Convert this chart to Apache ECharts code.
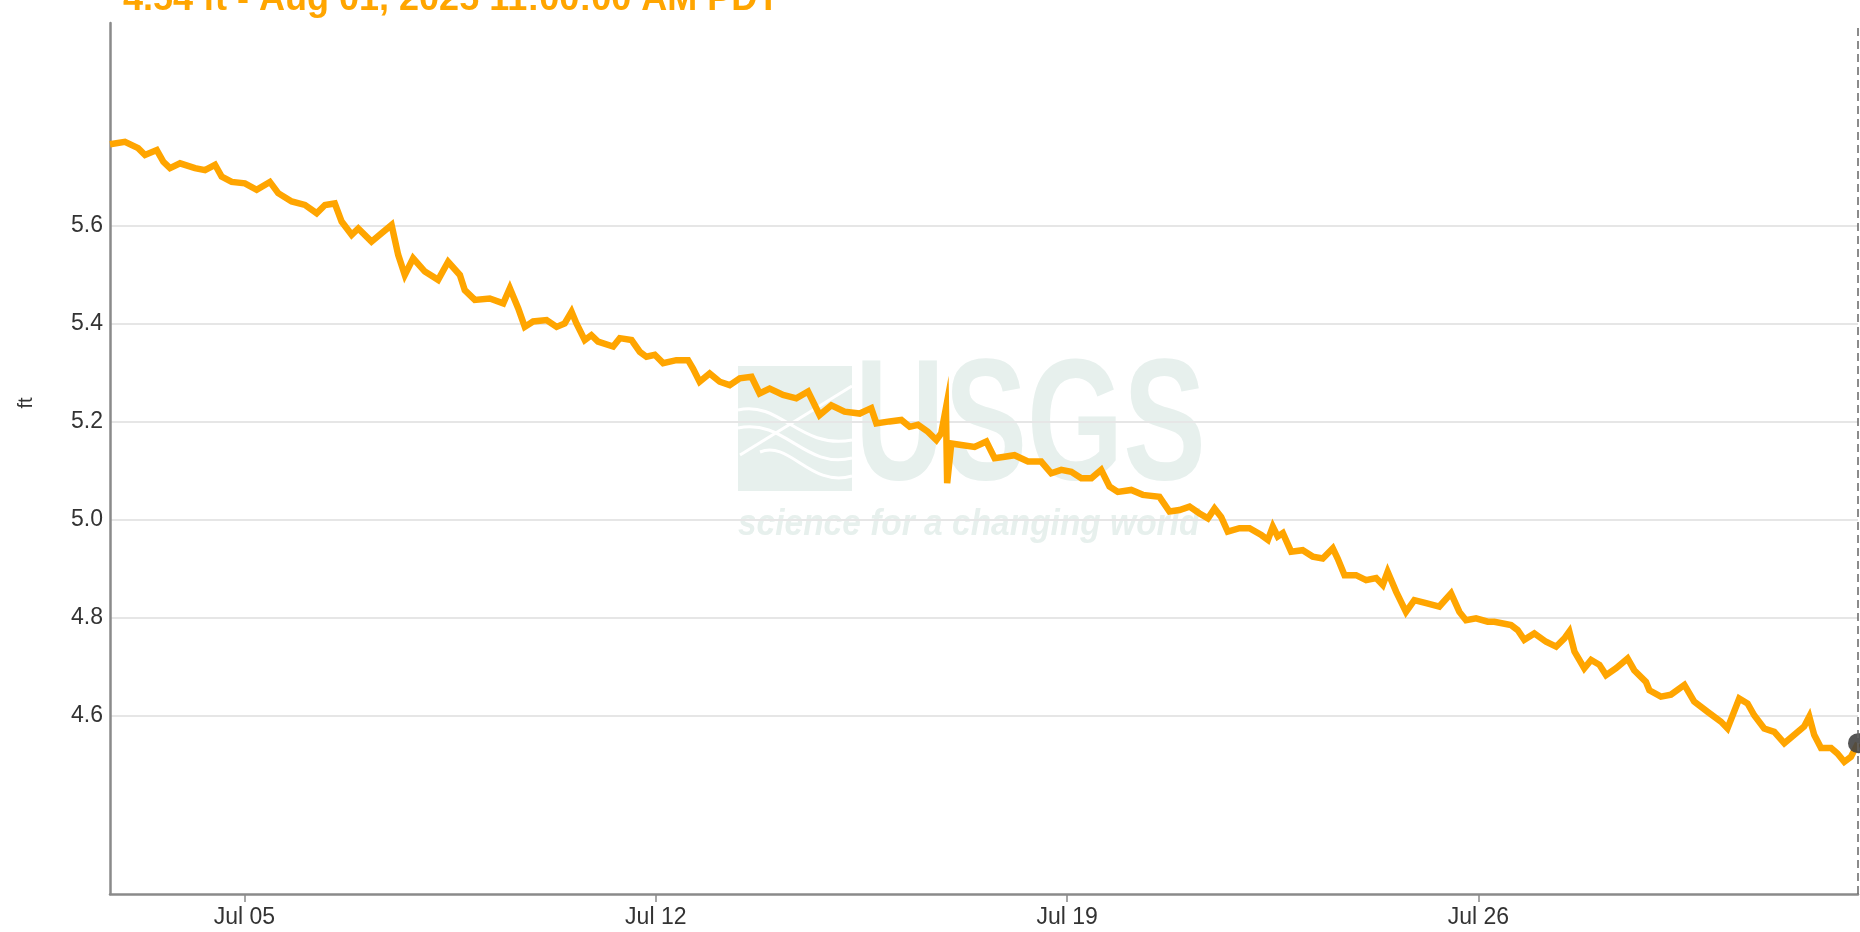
<!DOCTYPE html>
<html>
<head>
<meta charset="utf-8">
<title>Gage height</title>
<script src="https://cdn.jsdelivr.net/npm/echarts@6/dist/echarts.min.js"></script>
<style>
  html, body { margin: 0; padding: 0; background: #fff; }
  #chart { width: 1860px; height: 932px; }
</style>
</head>
<body>
<div id="chart"></div>
<script>
// hours since Jul 01 00:00 PDT
const hours = [
  41.1, 47.2, 52.6, 55.4, 60.2, 62.9, 65.6, 69.7, 75.8, 79.9, 84.0, 86.7, 90.8, 96.2, 101.0, 106.4, 109.8,
  115.3, 120.7, 125.5, 128.9, 132.9, 135.7, 139.8, 142.5, 147.9, 152.0, 156.1, 158.8, 161.5, 164.9, 169.7,
  175.1, 179.2, 184.0, 186.0, 190.1, 196.2, 201.7, 204.4, 207.8, 210.5, 213.9, 219.4, 223.5, 226.8, 229.6,
  231.6, 235.0, 237.7, 240.4, 246.6, 249.3, 254.1, 257.5, 260.2, 263.6, 267.0, 272.4, 277.2, 279.2, 281.9,
  286.0, 290.1, 294.2, 298.3, 303.1, 306.4, 310.5, 316.0, 321.4, 326.2, 330.9, 335.7, 341.1, 347.3, 352.0,
  354.1, 359.5, 364.3, 367.7, 371.1, 375.1, 378.6, 380.6, 382.5, 383.0, 384.7, 388.8, 394.2, 399.0, 402.4,
  406.5, 410.5, 416.0, 421.4, 425.5, 429.6, 433.7, 437.8, 441.9, 445.9, 449.3, 452.7, 458.2, 462.9, 469.7,
  473.8, 477.9, 482.0, 486.1, 489.5, 492.2, 494.9, 497.6, 502.4, 506.5, 511.3, 514.0, 516.0, 518.0, 520.1,
  523.5, 528.2, 532.3, 536.4, 540.5, 542.5, 545.3, 550.0, 554.1, 558.2, 560.9, 562.9, 566.4, 570.4, 573.8,
  578.6, 584.0, 588.8, 592.2, 594.9, 599.0, 603.8, 606.5, 613.3, 616.0, 618.7, 622.8, 627.6, 631.7, 635.1,
  637.1, 639.2, 643.2, 646.0, 649.4, 652.1, 656.2, 660.9, 663.6, 668.4, 669.8, 674.5, 678.6, 684.1, 688.1,
  693.6, 699.0, 701.7, 706.5, 709.9, 712.6, 716.7, 720.8, 724.9, 729.0, 733.0, 735.1, 737.1, 739.9, 744.0,
  746.6, 749.4, 752.1, 755.0
];
// gage height, ft
const stage = [
  5.767, 5.772, 5.759, 5.745, 5.755, 5.731, 5.718, 5.728, 5.718, 5.714, 5.725, 5.701, 5.690, 5.687, 5.674, 5.690, 5.667,
  5.650, 5.643, 5.626, 5.643, 5.646, 5.609, 5.582, 5.595, 5.568, 5.585, 5.602, 5.541, 5.500, 5.534, 5.507,
  5.490, 5.527, 5.500, 5.469, 5.449, 5.452, 5.442, 5.473, 5.432, 5.394, 5.405, 5.408, 5.394, 5.401, 5.425,
  5.401, 5.367, 5.377, 5.364, 5.354, 5.371, 5.367, 5.343, 5.333, 5.337, 5.320, 5.326, 5.326, 5.309, 5.282,
  5.299, 5.282, 5.275, 5.289, 5.292, 5.258, 5.268, 5.255, 5.248, 5.262, 5.214, 5.234, 5.221, 5.217, 5.228,
  5.197, 5.201, 5.204, 5.190, 5.194, 5.180, 5.163, 5.177, 5.228, 5.075, 5.156, 5.153, 5.149, 5.160, 5.126,
  5.129, 5.132, 5.119, 5.119, 5.095, 5.102, 5.098, 5.085, 5.085, 5.102, 5.068, 5.057, 5.061, 5.051, 5.047,
  5.017, 5.020, 5.027, 5.013, 5.003, 5.023, 5.006, 4.976, 4.983, 4.983, 4.969, 4.959, 4.986, 4.966, 4.973,
  4.935, 4.938, 4.925, 4.921, 4.942, 4.921, 4.887, 4.887, 4.877, 4.881, 4.867, 4.894, 4.853, 4.812, 4.836,
  4.830, 4.823, 4.850, 4.812, 4.795, 4.799, 4.792, 4.792, 4.785, 4.775, 4.755, 4.768, 4.751, 4.741, 4.758,
  4.772, 4.731, 4.697, 4.714, 4.704, 4.683, 4.697, 4.717, 4.693, 4.669, 4.652, 4.639, 4.643, 4.663, 4.629,
  4.608, 4.588, 4.574, 4.635, 4.625, 4.601, 4.574, 4.567, 4.544, 4.561, 4.578, 4.598, 4.561, 4.534, 4.534,
  4.523, 4.506, 4.516, 4.544
];
const tickHours = [96, 264, 432, 600];
const tickLabels = ['Jul 05', 'Jul 12', 'Jul 19', 'Jul 26'];
const yTicks = [4.6, 4.8, 5.0, 5.2, 5.4, 5.6];

const chart = echarts.init(document.getElementById('chart'));
const points = hours.map((h, i) => [h, stage[i]]);
const last = points[points.length - 1];
const orange = '#ffa500';
const font = 'Liberation Sans, Arial, sans-serif';
const mark = '#e7f0ed';
const axisGray = '#8a8a8a';

chart.setOption({
  animation: false,
  grid: [
    {left: 110, right: 2, top: 23, bottom: 38},
    // only used for the labelled gridlines 4.6 - 5.6
    {left: 110, right: 2, top: 226, bottom: 216}
  ],
  xAxis: [
    {
      type: 'value',
      gridIndex: 0,
      min: hours[0],
      max: last[0],
      axisLine: {lineStyle: {color: axisGray, width: 2.5}},
      axisTick: {customValues: tickHours, length: 8, lineStyle: {color: axisGray, width: 1.5}},
      axisLabel: {
        customValues: tickHours,
        formatter: v => tickLabels[tickHours.indexOf(v)],
        margin: 12,
        fontSize: 23,
        color: '#333',
        fontFamily: font
      },
      splitLine: {show: false}
    },
    {type: 'value', gridIndex: 1, min: hours[0], max: last[0], show: false}
  ],
  yAxis: [
    {
      type: 'value',
      gridIndex: 0,
      min: 4.236,
      max: 6.0145,
      axisLine: {show: true, lineStyle: {color: axisGray, width: 2.5}},
      axisTick: {show: false},
      axisLabel: {show: false},
      splitLine: {show: false}
    },
    {
      type: 'value',
      gridIndex: 1,
      min: yTicks[0],
      max: yTicks[yTicks.length - 1],
      interval: 0.2,
      axisLine: {show: false},
      axisTick: {show: false},
      axisLabel: {margin: 7, fontSize: 23, color: '#333', fontFamily: font, formatter: v => v.toFixed(1)},
      splitLine: {lineStyle: {color: '#e6e6e6', width: 2}}
    }
  ],
  graphic: [
    // USGS watermark
    {type: 'rect', z: -1, shape: {x: 738, y: 366, width: 114, height: 125}, style: {fill: mark}},
    {type: 'polyline', z: -1, shape: {points: [[852, 386], [740, 455]]}, style: {stroke: '#fff', lineWidth: 3, fill: null}},
    {type: 'bezierCurve', z: -1, shape: {x1: 738, y1: 410, cpx1: 780, cpy1: 400, cpx2: 800, cpy2: 450, x2: 852, y2: 440}, style: {stroke: '#fff', lineWidth: 3, fill: null}},
    {type: 'bezierCurve', z: -1, shape: {x1: 738, y1: 428, cpx1: 785, cpy1: 418, cpx2: 805, cpy2: 470, x2: 852, y2: 458}, style: {stroke: '#fff', lineWidth: 3, fill: null}},
    {type: 'bezierCurve', z: -1, shape: {x1: 760, y1: 452, cpx1: 790, cpy1: 440, cpx2: 810, cpy2: 488, x2: 852, y2: 476}, style: {stroke: '#fff', lineWidth: 3, fill: null}},
    {
      type: 'text', z: -1, x: 855, y: 432, scaleX: 0.72,
      style: {text: 'USGS', fontSize: 172, fontWeight: 'bold', fontFamily: font, fill: mark, verticalAlign: 'middle'}
    },
    {
      type: 'text', z: -1, x: 738, y: 525, scaleX: 0.93,
      style: {text: 'science for a changing world', fontSize: 36, fontWeight: 'bold', fontStyle: 'italic', fontFamily: font, fill: mark, verticalAlign: 'middle'}
    },
    // header, cut off at the top of the picture
    {
      type: 'text', x: 123, y: 0,
      style: {text: '4.54 ft - Aug 01, 2025 11:00:00 AM PDT', fontSize: 36, fontWeight: 'bold', fontFamily: font, fill: orange, verticalAlign: 'middle'}
    },
    {
      type: 'text', x: 26, y: 403, rotation: Math.PI / 2,
      style: {text: 'ft', fontSize: 20, fontFamily: font, fill: '#333', align: 'center', verticalAlign: 'middle'}
    }
  ],
  series: [
    {
      type: 'line',
      xAxisIndex: 0,
      yAxisIndex: 0,
      data: points,
      showSymbol: false,
      z: 3,
      lineStyle: {color: orange, width: 6.5, join: 'miter'}
    },
    {
      type: 'scatter',
      xAxisIndex: 0,
      yAxisIndex: 0,
      data: [last],
      symbolSize: 20,
      clip: false,
      z: 4,
      itemStyle: {color: '#444', opacity: 0.9},
      markLine: {
        silent: true,
        symbol: 'none',
        label: {show: false},
        lineStyle: {color: '#666', type: [8, 5], width: 1.5},
        data: [{xAxis: last[0]}]
      }
    }
  ]
});
</script>
</body>
</html>
